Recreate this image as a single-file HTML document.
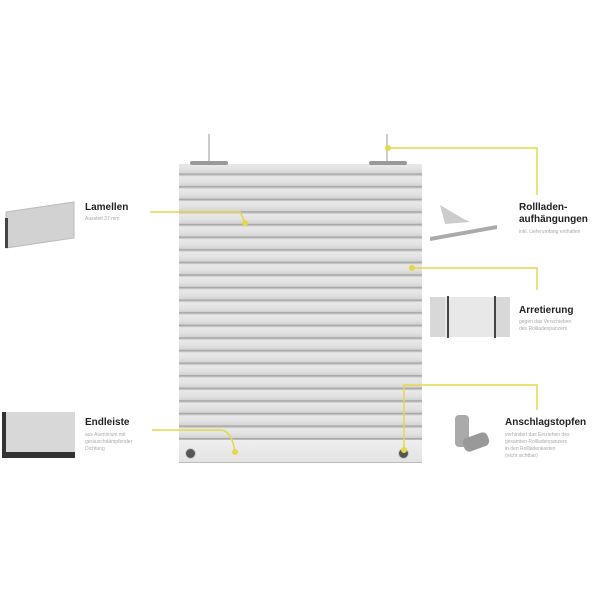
<!DOCTYPE html><html><head><style>
body{margin:0;width:600px;height:600px;background:#fff;position:relative;overflow:hidden;font-family:"Liberation Sans",sans-serif}
.t{position:absolute;font-weight:bold;font-size:10px;color:#222;line-height:12px}
.s{position:absolute;font-size:5px;color:#aaa;line-height:7px}
.sh{position:absolute;left:179px;top:164px;width:243px;height:276px;background:repeating-linear-gradient(180deg,#e8e8e8 0,#e2e2e2 5px,#d4d4d4 9px,#a0a0a0 10px,#bdbdbd 11px,#ececec 12.6px)}
.rail{position:absolute;left:179px;top:440px;width:243px;height:22px;background:linear-gradient(#eeeeee,#e4e4e4);border-bottom:1px solid #bbb}
</style></head><body>
<div class="sh"></div><div class="rail"></div>
<div style="position:absolute;left:190px;top:161px;width:38px;height:4px;background:#999;border-radius:2px"></div>
<div style="position:absolute;left:369px;top:161px;width:38px;height:4px;background:#999;border-radius:2px"></div>
<div style="position:absolute;left:208px;top:134px;width:2px;height:27px;background:#ccc"></div>
<div style="position:absolute;left:386px;top:134px;width:2px;height:27px;background:#ccc"></div>
<div style="position:absolute;left:185px;top:448px;width:9px;height:9px;border-radius:50%;background:#555;border:1px solid #ccc"></div>
<div style="position:absolute;left:398px;top:448px;width:9px;height:9px;border-radius:50%;background:#555;border:1px solid #ccc"></div>
<svg width="600" height="600" style="position:absolute;left:0;top:0">
<g stroke="#e6d84a" stroke-width="1.5" fill="none">
<polyline points="388,148 537,148 537,195"/>
<polyline points="412,268 537,268 537,290"/>
<polyline points="150,212 240,212 245,222"/>
<path d="M152,430 L222,430 Q232,432 235,452"/>
<polyline points="404,450 404,385 537,385 537,410"/>
</g>
<g fill="#e6d84a"><circle cx="388" cy="148" r="3"/><circle cx="412" cy="268" r="3"/><circle cx="245" cy="223" r="3"/><circle cx="235" cy="452" r="3"/><circle cx="404" cy="450" r="3"/></g>
<polygon points="6,212 74,202 74,238 6,248" fill="#d2d2d2" stroke="#bbb"/>
<rect x="5" y="218" width="3" height="30" fill="#444"/>
<rect x="3" y="412" width="72" height="42" fill="#d8d8d8"/>
<rect x="3" y="452" width="72" height="6" fill="#333"/>
<rect x="2" y="412" width="4" height="46" fill="#333"/>
<polygon points="440,205 462,218 470,222 445,224" fill="#ccc"/>
<polygon points="430,237 497,225 497,229 430,241" fill="#aaa"/>
<rect x="430" y="297" width="80" height="40" fill="#d8d8d8"/>
<rect x="445" y="297" width="50" height="40" fill="#e8e8e8"/>
<rect x="447" y="296" width="2" height="42" fill="#444"/><rect x="494" y="296" width="2" height="42" fill="#444"/>
<rect x="455" y="415" width="14" height="32" rx="4" fill="#aaa"/>
<rect x="463" y="435" width="26" height="14" rx="5" fill="#999" transform="rotate(-20 476 442)"/>
</svg>
<div class="t" style="left:85px;top:202px">Lamellen</div>
<div class="s" style="left:85px;top:216px">Aussteif 37 mm</div>
<div class="t" style="left:519px;top:202px">Rollladen-<br>aufhängungen</div>
<div class="s" style="left:519px;top:229px">inkl. Lieferumfang enthalten</div>
<div class="t" style="left:519px;top:305px">Arretierung</div>
<div class="s" style="left:519px;top:319px">gegen das Verschieben<br>des Rollladenpanzers</div>
<div class="t" style="left:85px;top:417px">Endleiste</div>
<div class="s" style="left:85px;top:432px">aus Aluminium mit<br>geräuschdämpfender<br>Dichtung</div>
<div class="t" style="left:505px;top:417px">Anschlagstopfen</div>
<div class="s" style="left:505px;top:432px">verhindert das Einziehen des<br>gesamten Rollladenpanzers<br>in den Rollladenkasten<br>(nicht sichtbar)</div>
</body></html>
